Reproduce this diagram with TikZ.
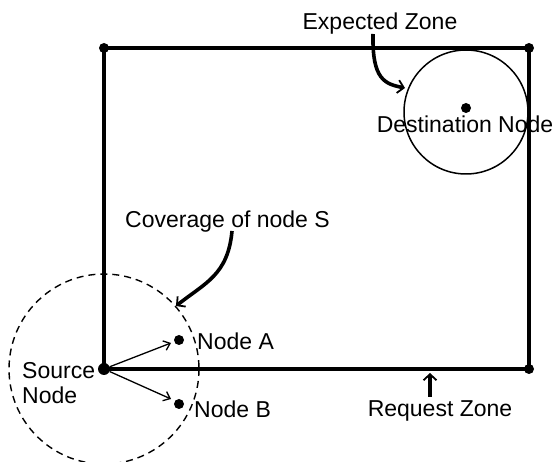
\documentclass[tikz,border=0pt]{standalone}
\usepackage{fontspec}
\setmainfont{Liberation Sans}
\usetikzlibrary{arrows.meta}
\begin{document}
\begin{tikzpicture}[x=1pt,y=-1pt,
  lbl/.style={inner sep=0pt, font=\fontsize{23}{27}\selectfont},
  dotc/.style={circle, fill=black, inner sep=0pt, minimum size=12pt},
  smalldot/.style={circle, fill=black, inner sep=0pt, minimum size=10pt},
  zone/.style={line width=3.6pt},
  thinarrow/.style={line width=1.3pt, -{Straight Barb[length=6pt,width=10pt,line width=1.3pt]}},
  thickarrow/.style={line width=3.6pt, -{Straight Barb[length=6pt,width=13pt,line width=1.8pt]}}]
\useasboundingbox (0,0) rectangle (555,462);
% request zone
\coordinate (tl) at (104,48);
\coordinate (tr) at (529,48);
\coordinate (bl) at (104,369);
\coordinate (br) at (529,369);
\draw[zone] (tl) -- (tr) -- (br) -- (bl) -- cycle;
\node[smalldot] (ctl) at (tl) {};
\node[smalldot] (ctr) at (tr) {};
\node[smalldot] (cbr) at (br) {};
\node[dotc] (src) at (bl) {};
% coverage circle
\draw[line width=1.4pt, dash pattern=on 7pt off 5pt] (bl) circle[radius=95];
% expected zone circle
\draw[line width=1.5pt] (466,112) circle[radius=62];
\node[smalldot] (dst) at (466,108) {};
\node[lbl] (dstl) at (465,124) {Destination Node};
% nodes A and B
\node[smalldot] (na) at (179,340) {};
\node[smalldot] (nb) at (179,404) {};
\node[lbl, anchor=west] (nal) at (197,341) {Node A};
\node[lbl, anchor=west] (nbl) at (194,409) {Node B};
\draw[thinarrow] (src) -- (171,343);
\draw[thinarrow] (src) -- (171,399);
% source label
\node[lbl, anchor=west, align=left] (srcl) at (22,383) {Source\\[-2pt]Node};
% expected zone label + arrow
\node[lbl] (ezl) at (380,24) {Expected Zone};
\coordinate (ezt) at (405,88);
\draw[thickarrow] (373,34) .. controls (372,80) and (385,84) .. (ezt);
% coverage label + arrow
\node[lbl, anchor=west] (cvl) at (125,222) {Coverage of node S};
\coordinate (cvt) at (176,306);
\draw[thickarrow] (232,231) .. controls (228,275) and (205,283) .. (cvt);
% request zone label + arrow
\node[lbl] (rzl) at (440,411) {Request Zone};
\coordinate (rzt) at (430,373);
\draw[thickarrow] (430,397) -- (rzt);
\end{tikzpicture}
\end{document}
